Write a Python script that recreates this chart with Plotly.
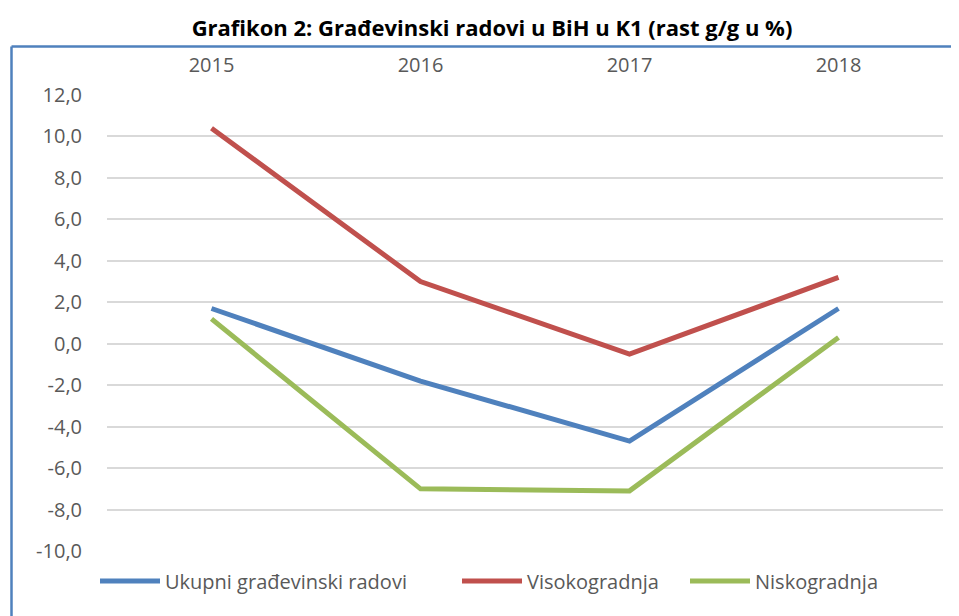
import plotly.graph_objects as go

years = ["2015", "2016", "2017", "2018"]
ukupni = [1.7, -1.8, -4.7, 1.7]
visoko = [10.4, 3.0, -0.5, 3.2]
nisko = [1.2, -7.0, -7.1, 0.3]
y_ticks = [-10, -8, -6, -4, -2, 0, 2, 4, 6, 8, 10, 12]
y_ticklabels = ["-10,0", "-8,0", "-6,0", "-4,0", "-2,0", "0,0",
                "2,0", "4,0", "6,0", "8,0", "10,0", "12,0"]

series = [
    ("Ukupni građevinski radovi", ukupni, "#4F81BD"),
    ("Visokogradnja", visoko, "#C0504D"),
    ("Niskogradnja", nisko, "#9BBB59"),
]

# the page body has an 8px margin; work in page pixels and convert
O = 8
W, H = 959, 616
PL, PR, PT, PB = 107, 943, 95, 551          # plot area in page pixels
L, T = PL - O, PT - O
R, B = W - (PR - O), H - (PB - O)
pw, ph = W - L - R, H - T - B

def px(x):
    return (x - O - L) / pw

def py(y):
    return (H - B - (y - O)) / ph

fig = go.Figure()
legend_ids = ["legend", "legend2", "legend3"]
for (name, vals, col), lg in zip(series, legend_ids):
    fig.add_trace(go.Scatter(x=years, y=vals, name=name, mode="lines",
                             legend=lg, line=dict(color=col, width=5)))

frame = "#4F81BD"
fig.add_shape(type="line", xref="paper", yref="paper",
              x0=px(11.5), x1=px(11.5), y0=py(46.5), y1=py(640),
              line=dict(color=frame, width=2.5))
fig.add_shape(type="line", xref="paper", yref="paper",
              x0=px(11.5), x1=px(990), y0=py(46.5), y1=py(46.5),
              line=dict(color=frame, width=2.5))

legend_common = dict(orientation="h", xanchor="left", yanchor="middle",
                     y=py(581), font=dict(size=20, color="#595959"),
                     itemwidth=60, bgcolor="rgba(0,0,0,0)")
legend_starts = [95, 457, 685]

fig.update_layout(
    width=W, height=H,
    margin=dict(l=L, r=R, t=T, b=B, autoexpand=False),
    paper_bgcolor="white", plot_bgcolor="white",
    font=dict(family="Open Sans", color="#595959", size=20),
    title=dict(text="<b>Grafikon 2: Građevinski radovi u BiH u K1 (rast g/g u %)</b>",
               x=(492 - O) / W, xanchor="center", y=1 - (28 - O) / H, yanchor="middle",
               font=dict(family="Open Sans", size=22, color="#000000")),
    xaxis=dict(side="top", showgrid=False, showline=False, ticks="",
               range=[-0.5, 3.5], automargin=False, ticklabelstandoff=18,
               tickfont=dict(size=20, color="#595959")),
    yaxis=dict(range=[-10, 12], tickvals=y_ticks, ticktext=y_ticklabels,
               showgrid=True, gridcolor="#D9D9D9", gridwidth=1.5,
               zeroline=False, showline=False, ticks="", automargin=False,
               ticklabelstandoff=24,
               tickfont=dict(size=20, color="#595959")),
    legend=dict(x=px(legend_starts[0]), **legend_common),
    legend2=dict(x=px(legend_starts[1]), **legend_common),
    legend3=dict(x=px(legend_starts[2]), **legend_common),
    showlegend=True,
)

fig.write_html("out.html")
